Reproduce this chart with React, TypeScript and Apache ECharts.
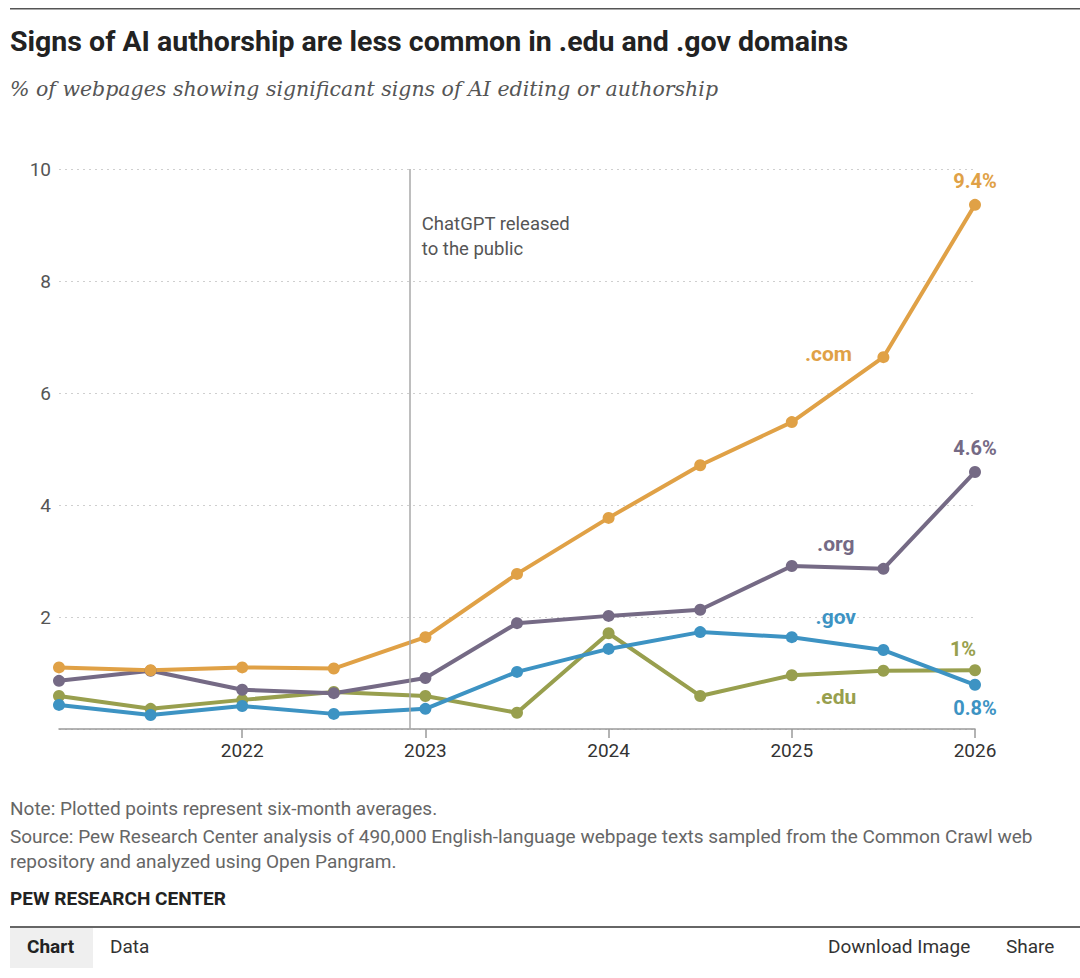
import React, { useEffect, useRef } from "react";
import * as echarts from "echarts";

const xValues = [2021, 2021.5, 2022, 2022.5, 2023, 2023.5, 2024, 2024.5, 2025, 2025.5, 2026];
const comValues = [1.1, 1.05, 1.1, 1.08, 1.64, 2.77, 3.77, 4.71, 5.48, 6.64, 9.36];
const orgValues = [0.86, 1.04, 0.7, 0.64, 0.91, 1.89, 2.02, 2.13, 2.91, 2.86, 4.59];
const govValues = [0.43, 0.25, 0.41, 0.27, 0.36, 1.02, 1.43, 1.73, 1.64, 1.41, 0.79];
const eduValues = [0.59, 0.36, 0.52, 0.66, 0.59, 0.29, 1.71, 0.59, 0.96, 1.04, 1.05];
const xTickValues = [2022, 2023, 2024, 2025, 2026];
const yTickValues = [2, 4, 6, 8, 10];
const chatGptRelease = 2022.915;

const COLORS = { com: "#E0A146", org: "#756A85", gov: "#3D93C3", edu: "#989F4E" };
const FONT = "Roboto, 'Noto Sans', sans-serif";

function pairs(vals: number[]) {
  return xValues.map((x, i) => [x, vals[i]]);
}

function makeSeries(
  name: string,
  vals: number[],
  color: string,
  endText: string,
  endPos: string,
  endOffset: number[],
  nameCoord: number[]
) {
  const data: any[] = pairs(vals).map((p, i) =>
    i === vals.length - 1
      ? {
          value: p,
          label: {
            show: true,
            formatter: endText,
            position: endPos,
            offset: endOffset,
            color,
            fontFamily: FONT,
            fontWeight: "bold",
            fontSize: 20,
          },
        }
      : { value: p }
  );
  return {
    type: "line",
    name,
    data,
    color,
    lineStyle: { width: 4, color },
    itemStyle: { color },
    symbol: "circle",
    symbolSize: 12,
    showSymbol: true,
    z: 3,
    label: { show: false },
    markPoint: {
      symbol: "circle",
      symbolSize: 0,
      silent: true,
      data: [
        {
          coord: nameCoord,
          label: {
            show: true,
            formatter: name,
            position: "inside",
            color,
            fontFamily: FONT,
            fontWeight: "bold",
            fontSize: 21,
          },
        },
      ],
    },
  };
}

export default function App() {
  const ref = useRef<HTMLDivElement>(null);
  useEffect(() => {
    document.body.style.margin = "0";
    const chart = echarts.init(ref.current!, null, { renderer: "svg" });
    const option: any = {
      animation: false,
      backgroundColor: "#ffffff",
      grid: { left: 59, right: 105, top: 169, bottom: 249, containLabel: false },
      xAxis: {
        type: "value",
        min: 2021,
        max: 2026,
        interval: 1,
        axisLine: { show: true, lineStyle: { color: "#9a9a9a", width: 1.5 } },
        axisTick: {
          show: true,
          length: 9,
          customValues: xTickValues,
          lineStyle: { color: "#9a9a9a", width: 1.5 },
        },
        axisLabel: {
          customValues: xTickValues,
          color: "#333333",
          fontFamily: FONT,
          fontSize: 19,
          margin: 12,
          formatter: (v: number) => String(v),
        },
        splitLine: { show: false },
      },
      yAxis: {
        type: "value",
        min: 0,
        max: 10,
        interval: 2,
        axisLine: { show: false },
        axisTick: { show: false },
        axisLabel: {
          customValues: yTickValues,
          color: "#555555",
          fontFamily: FONT,
          fontSize: 19,
          margin: 8,
        },
        splitLine: {
          show: true,
          lineStyle: { color: "#cfcfcf", type: [2, 4], width: 1 },
        },
      },
      series: [
        {
          type: "line",
          name: "release",
          data: [],
          silent: true,
          markLine: {
            symbol: "none",
            silent: true,
            label: { show: false },
            lineStyle: { color: "#a8a8a8", type: "solid", width: 1.5 },
            data: [[{ coord: [chatGptRelease, 0] }, { coord: [chatGptRelease, 10] }]],
          },
          markPoint: {
            symbol: "circle",
            symbolSize: 0,
            silent: true,
            data: [
              {
                coord: [chatGptRelease, 8.8],
                label: {
                  show: true,
                  position: "right",
                  distance: 12,
                  formatter: "ChatGPT released\nto the public",
                  color: "#555555",
                  fontFamily: FONT,
                  fontSize: 18.5,
                  lineHeight: 25,
                  align: "left",
                },
              },
            ],
          },
        },
        makeSeries(".edu", eduValues, COLORS.edu, "1%", "top", [-12, 0], [2025.24, 0.58]),
        makeSeries(".gov", govValues, COLORS.gov, "0.8%", "bottom", [0, 2], [2025.24, 2.0]),
        makeSeries(".org", orgValues, COLORS.org, "4.6%", "top", [0, -3], [2025.24, 3.3]),
        makeSeries(".com", comValues, COLORS.com, "9.4%", "top", [0, -3], [2025.2, 6.7]),
      ],
      graphic: [
        { type: "rect", shape: { x: 10, y: 8, width: 1070, height: 1.5 }, style: { fill: "#555555" } },
        {
          type: "text",
          left: 10,
          top: 27,
          style: {
            text: "Signs of AI authorship are less common in .edu and .gov domains",
            fill: "#222222",
            font: `bold 28.5px ${FONT}`,
          },
        },
        {
          type: "text",
          left: 10,
          top: 79,
          style: {
            text: "% of webpages showing significant signs of AI editing or authorship",
            fill: "#555555",
            font: `italic 20.5px 'DejaVu Serif', serif`,
          },
        },
        {
          type: "text",
          left: 10,
          top: 799,
          style: {
            text: "Note: Plotted points represent six-month averages.",
            fill: "#666666",
            font: `19px ${FONT}`,
          },
        },
        {
          type: "text",
          left: 10,
          top: 824,
          style: {
            text:
              "Source: Pew Research Center analysis of 490,000 English-language webpage texts sampled from the Common Crawl web\nrepository and analyzed using Open Pangram.",
            fill: "#666666",
            font: `19px ${FONT}`,
            lineHeight: 25,
          },
        },
        {
          type: "text",
          left: 10,
          top: 889,
          style: { text: "PEW RESEARCH CENTER", fill: "#222222", font: `bold 19px ${FONT}` },
        },
        { type: "rect", shape: { x: 10, y: 926, width: 1070, height: 2 }, style: { fill: "#666666" } },
        { type: "rect", shape: { x: 10, y: 928, width: 83, height: 40 }, style: { fill: "#efefef" } },
        {
          type: "text",
          left: 27,
          top: 937,
          style: { text: "Chart", fill: "#222222", font: `bold 19px ${FONT}` },
        },
        {
          type: "text",
          left: 110,
          top: 937,
          style: { text: "Data", fill: "#333333", font: `19px ${FONT}` },
        },
        {
          type: "text",
          left: 828,
          top: 937,
          style: { text: "Download Image", fill: "#333333", font: `19px ${FONT}` },
        },
        {
          type: "text",
          left: 1006,
          top: 937,
          style: { text: "Share", fill: "#333333", font: `19px ${FONT}` },
        },
      ],
    };
    chart.setOption(option);
    return () => chart.dispose();
  }, []);
  return <div ref={ref} style={{ width: 1080, height: 978 }} />;
}
